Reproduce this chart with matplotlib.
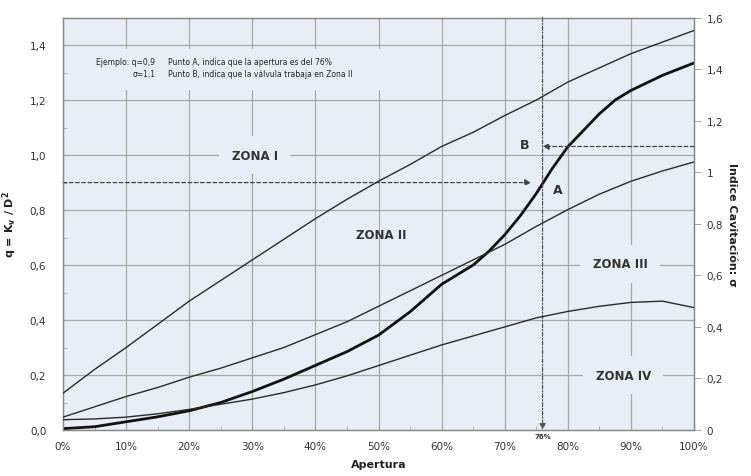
import matplotlib
matplotlib.use("Agg")
from matplotlib import pyplot as plt
from matplotlib.ticker import MultipleLocator

# apertura (%)
apertura = [0, 5, 10, 15, 20, 25, 30, 35, 40, 45, 50, 55, 60, 65, 67.5, 70,
            72.5, 75, 77.5, 80, 82.5, 85, 87.5, 90, 95, 100]
# thick curve: q = Kv / D^2 (left axis)
q_curve = [0.005, 0.012, 0.03, 0.048, 0.07, 0.10, 0.14, 0.185, 0.235, 0.285,
           0.345, 0.43, 0.53, 0.60, 0.65, 0.71, 0.78, 0.86, 0.95, 1.03, 1.09,
           1.15, 1.20, 1.235, 1.29, 1.335]

# cavitation index boundaries (right axis)
ap_sigma = [0, 5, 10, 15, 20, 25, 30, 35, 40, 45, 50, 55, 60, 65, 70, 75, 80,
            85, 90, 95, 100]
sigma_1 = [0.143, 0.235, 0.32, 0.41, 0.50, 0.58, 0.66, 0.74, 0.82, 0.895, 0.965,
           1.03, 1.10, 1.155, 1.22, 1.28, 1.35, 1.405, 1.46, 1.505, 1.55]
sigma_2 = [0.05, 0.09, 0.13, 0.165, 0.205, 0.24, 0.28, 0.32, 0.37, 0.42, 0.48,
           0.54, 0.60, 0.66, 0.72, 0.79, 0.855, 0.915, 0.965, 1.005, 1.04]
sigma_3 = [0.04, 0.043, 0.05, 0.063, 0.08, 0.10, 0.12, 0.145, 0.175, 0.21, 0.25,
           0.29, 0.33, 0.365, 0.40, 0.435, 0.46, 0.48, 0.495, 0.50, 0.475]

x_ticks = [0, 10, 20, 30, 40, 50, 60, 70, 80, 90, 100]
x_labels = ["0%", "10%", "20%", "30%", "40%", "50%", "60%", "70%", "80%", "90%", "100%"]
q_ticks = [0.0, 0.2, 0.4, 0.6, 0.8, 1.0, 1.2, 1.4]
q_labels = ["0,0", "0,2", "0,4", "0,6", "0,8", "1,0", "1,2", "1,4"]
s_ticks = [0, 0.2, 0.4, 0.6, 0.8, 1.0, 1.2, 1.4, 1.6]
s_labels = ["0", "0,2", "0,4", "0,6", "0,8", "1", "1,2", "1,4", "1,6"]

q_ejemplo = 0.9
sigma_ejemplo = 1.1
ap_ejemplo = 76

bg = "#e9eef6"
grid_c = "#a8a8a8"
line_c = "#2a2a2a"
txt_c = "#333333"

fig = plt.figure(figsize=(7.51, 4.77), dpi=100)
ax = fig.add_axes([0.0839, 0.0964, 0.8402, 0.8646])
ax.set_facecolor(bg)
ax.set_xlim(0, 100)
ax.set_ylim(0, 1.5)

ax2 = ax.twinx()
ax2.set_ylim(0, 1.6)

# grid
for xv in x_ticks[1:-1]:
    ax.axvline(xv, color=grid_c, lw=0.9, zorder=0)
for yv in q_ticks[1:]:
    ax.axhline(yv, color=grid_c, lw=0.9, zorder=0)

# curves
ax.plot(apertura, q_curve, color="#111111", lw=2.0, zorder=3)
for s in (sigma_1, sigma_2, sigma_3):
    ax2.plot(ap_sigma, s, color=line_c, lw=1.0, zorder=3)

# ticks
ax.set_xticks(x_ticks)
ax.set_xticklabels(x_labels)
ax.xaxis.set_minor_locator(MultipleLocator(5))
ax.set_yticks(q_ticks)
ax.set_yticklabels(q_labels)
ax.yaxis.set_minor_locator(MultipleLocator(0.1))
ax.tick_params(axis="both", which="both", direction="in", colors=grid_c,
               labelcolor=txt_c, labelsize=7.5, length=3)
ax.tick_params(axis="x", pad=8)
ax.tick_params(axis="y", pad=12)
ax2.set_yticks(s_ticks)
ax2.set_yticklabels(s_labels)
ax2.tick_params(axis="y", direction="out", colors=grid_c, labelcolor=txt_c,
                labelsize=7.5, length=5, pad=4)
for a in (ax, ax2):
    for sp in a.spines.values():
        sp.set_color("#888888")
        sp.set_linewidth(0.9)

# example: point A (horizontal) and point B (from the right)
ax.annotate("", xy=(74.2, q_ejemplo), xytext=(0, q_ejemplo),
            arrowprops=dict(arrowstyle="-|>", color="#444444", lw=0.9,
                            linestyle=(0, (3, 2)), mutation_scale=9,
                            shrinkA=0, shrinkB=0), zorder=4)
ax2.annotate("", xy=(ap_ejemplo, sigma_ejemplo), xytext=(100, sigma_ejemplo),
             arrowprops=dict(arrowstyle="-|>", color="#444444", lw=0.9,
                             linestyle=(0, (3, 2)), mutation_scale=9,
                             shrinkA=0, shrinkB=0), zorder=4)
ax.annotate("", xy=(ap_ejemplo, 0), xytext=(ap_ejemplo, 1.5),
            arrowprops=dict(arrowstyle="-|>", color="#555555", lw=0.9,
                            linestyle=(0, (3, 1.5, 1, 1.5)), mutation_scale=9,
                            shrinkA=0, shrinkB=0), zorder=4)
ax.text(ap_ejemplo, -0.012, "76%", fontsize=5, fontweight="bold", color=txt_c,
        ha="center", va="top")

ax.text(78.4, 0.876, "A", fontsize=9, fontweight="bold", color=txt_c,
        ha="center", va="center", zorder=5)
ax.text(73.2, 1.04, "B", fontsize=9, fontweight="bold", color=txt_c,
        ha="center", va="center", zorder=5)

# zone labels
box = dict(facecolor=bg, edgecolor="none", pad=9)
ax.text(30.4, 1.0, "ZONA I", fontsize=8.5, fontweight="bold", color=txt_c,
        ha="center", va="center", bbox=box, zorder=2)
ax.text(50.5, 0.71, "ZONA II", fontsize=8.5, fontweight="bold", color=txt_c,
        ha="center", va="center", zorder=2)
ax.text(88.3, 0.605, "ZONA III", fontsize=8.5, fontweight="bold", color=txt_c,
        ha="center", va="center", bbox=box, zorder=2)
ax.text(88.8, 0.2, "ZONA IV", fontsize=8.5, fontweight="bold", color=txt_c,
        ha="center", va="center", bbox=box, zorder=2)

# example note
ax.text(14.6, 1.342, "Ejemplo: q=0,9", fontsize=5.5, color="#222222",
        ha="right", va="center", zorder=2)
ax.text(14.6, 1.295, "σ=1,1", fontsize=5.5, color="#222222",
        ha="right", va="center", zorder=2)
ax.text(16.6, 1.342, "Punto A, indica que la apertura es del 76%", fontsize=5.5,
        color="#222222", ha="left", va="center", zorder=2)
ax.text(16.6, 1.295, "Punto B, indica que la válvula trabaja en Zona II", fontsize=5.5,
        color="#222222", ha="left", va="center", zorder=2)
ax.axhspan(1.24, 1.385, xmin=0.0, xmax=0.52, color=bg, zorder=1)

ax.set_xlabel("Apertura", fontsize=8, fontweight="bold", color="#222222", labelpad=6)
ax.set_ylabel("q = K$_\\mathbf{v}$ / D$^\\mathbf{2}$", fontsize=8, fontweight="bold",
              color="#222222", labelpad=8)
ax2.set_ylabel("Indice Cavitación: σ", fontsize=8, fontweight="bold", color="#222222",
               rotation=-90, labelpad=10)

fig.savefig("out.png", dpi=100)
